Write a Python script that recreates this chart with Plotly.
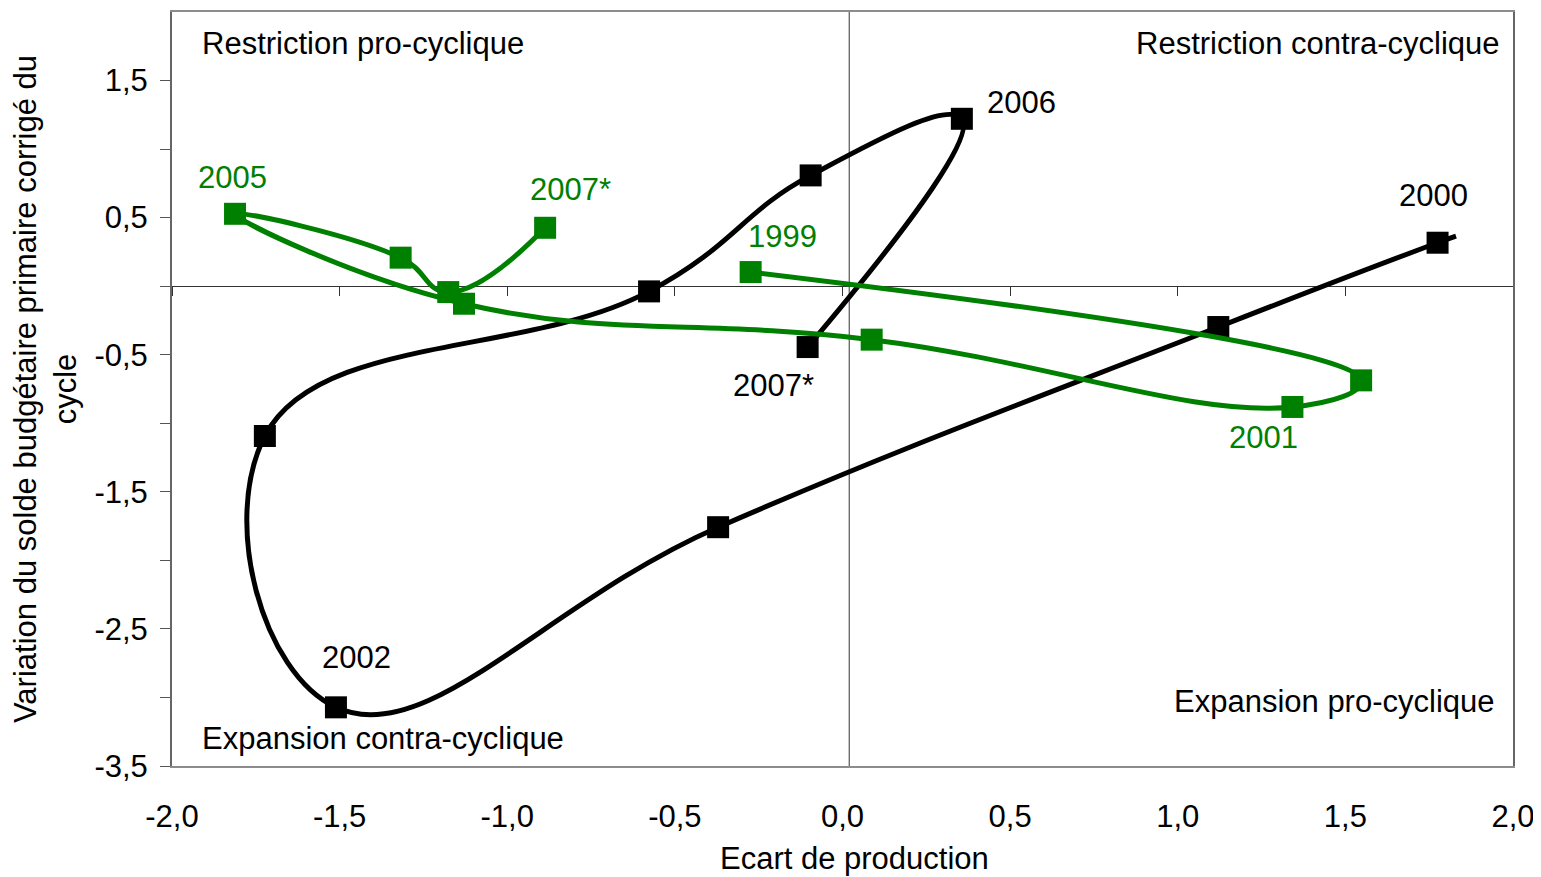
import plotly.graph_objects as go

# ---------------- data ----------------
# black series (first point: start of the smoothed curve, drawn without marker)
black_x = [1.83, 1.775, 1.121, -0.371, -1.511, -1.723, -0.577, -0.095, 0.356, -0.104]
black_y = [0.365, 0.317, -0.298, -1.758, -3.072, -1.093, -0.038, 0.808, 1.221, -0.444]
black_labels = ["", "2000", "", "", "2002", "", "", "", "2006", "2007*"]
black_has_marker = [False, True, True, True, True, True, True, True, True, True]

# green series
green_x = [-0.274, 1.547, 1.342, 0.087, -1.129, -1.812, -1.318, -1.176, -0.887]
green_y = [0.103, -0.687, -0.881, -0.390, -0.128, 0.528, 0.208, -0.043, 0.426]
green_labels = ["1999", "", "2001", "", "", "2005", "", "", "2007*"]

x_tickvals = [-2.0, -1.5, -1.0, -0.5, 0.0, 0.5, 1.0, 1.5, 2.0]
x_ticktext = ["-2,0", "-1,5", "-1,0", "-0,5", "0,0", "0,5", "1,0", "1,5", "2,0"]
y_tickvals = [-3.5, -3.0, -2.5, -2.0, -1.5, -1.0, -0.5, 0.0, 0.5, 1.0, 1.5]
y_ticktext = ["-3,5", "", "-2,5", "", "-1,5", "", "-0,5", "", "0,5", "", "1,5"]

quadrants = ["Restriction pro-cyclique", "Restriction contra-cyclique",
             "Expansion pro-cyclique", "Expansion contra-cyclique"]
x_title = "Ecart de production"
y_title = "Variation du solde budgétaire primaire corrigé du<br>cycle"
x_range = [-2.0, 2.0]
y_range = [-3.5, 2.0]
vertical_axis_x = 0.02

# ---------------- styles ----------------
FONT = "Liberation Sans, Arial, sans-serif"
FS = 31
BLACK = "#000000"
GREEN = "#008000"
MSIZE = 22
SMOOTH = 1.25

# label offsets in pixels (xshift, yshift) per label text and series
black_offsets = {"2000": (-4, 47), "2002": (21, 50), "2006": (60, 16), "2007*": (-34, -38)}
green_offsets = {"1999": (32, 36), "2001": (-29, -31), "2005": (-3, 36), "2007*": (25, 38)}

fig = go.Figure()

# black curve + markers
fig.add_trace(go.Scatter(
    x=black_x, y=black_y, mode="lines",
    line=dict(color=BLACK, width=5, shape="spline", smoothing=SMOOTH),
    showlegend=False, hoverinfo="skip"))
fig.add_trace(go.Scatter(
    x=[v for v, m in zip(black_x, black_has_marker) if m],
    y=[v for v, m in zip(black_y, black_has_marker) if m],
    mode="markers",
    marker=dict(symbol="square", size=MSIZE, color=BLACK, opacity=1,
                line=dict(width=0)),
    showlegend=False, hoverinfo="skip"))

# green curve + markers
fig.add_trace(go.Scatter(
    x=green_x, y=green_y, mode="lines+markers",
    line=dict(color=GREEN, width=5, shape="spline", smoothing=SMOOTH),
    marker=dict(symbol="square", size=MSIZE, color=GREEN, opacity=1,
                line=dict(width=0)),
    showlegend=False, hoverinfo="skip"))

# dummy trace for the zero-line axis
fig.add_trace(go.Scatter(x=[None], y=[None], xaxis="x2", yaxis="y",
                         showlegend=False, hoverinfo="skip"))

annotations = []
for xs, ys, labs, offs, col in [(black_x, black_y, black_labels, black_offsets, BLACK),
                                (green_x, green_y, green_labels, green_offsets, GREEN)]:
    for xv, yv, lab in zip(xs, ys, labs):
        if lab:
            dx, dy = offs[lab]
            annotations.append(dict(x=xv, y=yv, xref="x", yref="y", text=lab,
                                    showarrow=False, xshift=dx, yshift=dy,
                                    font=dict(family=FONT, size=FS, color=col)))

quad_pos = [(0.0209, 0.9576, "left"), (0.9918, 0.9576, "right"),
            (0.9881, 0.0849, "right"), (0.0209, 0.0371, "left")]
for txt, (px, py, anc) in zip(quadrants, quad_pos):
    annotations.append(dict(x=px, y=py, xref="paper", yref="paper", text=txt,
                            showarrow=False, xanchor=anc, yanchor="middle",
                            font=dict(family=FONT, size=FS, color=BLACK)))

# x axis title (placed below the tick labels)
annotations.append(dict(x=0.509, y=0, xref="paper", yref="paper", text=x_title,
                        showarrow=False, xanchor="center", yanchor="middle",
                        yshift=-92, font=dict(family=FONT, size=FS, color=BLACK)))

zero_pos = (0 - y_range[0]) / (y_range[1] - y_range[0])

# page body has an 8px margin: size the figure so the plot area lands at 172..1513 x 12..766
fig.update_layout(
    width=1533, height=869,
    margin=dict(l=164, r=28, t=4, b=111, autoexpand=False),
    paper_bgcolor="white", plot_bgcolor="white",
    font=dict(family=FONT, size=FS, color=BLACK),
    annotations=annotations,
    xaxis=dict(range=x_range, tickvals=x_tickvals, ticktext=x_ticktext,
               showgrid=False, zeroline=False, showline=True, mirror=True,
               linecolor="#8c8c8c", linewidth=2, ticks="", ticklabelstandoff=22,
               ticklabeloverflow="allow", automargin=False, tickfont=dict(size=FS)),
    xaxis2=dict(range=x_range, overlaying="x", anchor="free", position=zero_pos,
                tickvals=x_tickvals, showticklabels=False, showgrid=False,
                zeroline=False, showline=True, linecolor="#333333", linewidth=1,
                ticks="outside", ticklen=9, tickcolor="#333333", tickwidth=1,
                layer="below traces", automargin=False),
    yaxis=dict(range=y_range, tickvals=y_tickvals, ticktext=y_ticktext,
               showgrid=False, zeroline=False, showline=True, mirror=True,
               linecolor="#666666", linewidth=2, ticks="outside", ticklen=10,
               tickcolor="#555555", tickwidth=1, ticklabelstandoff=6, automargin=False,
               title=dict(text=y_title, standoff=10, font=dict(size=FS)),
               tickfont=dict(size=FS)),
    shapes=[dict(type="line", xref="x", yref="paper", x0=vertical_axis_x, x1=vertical_axis_x,
                 y0=0, y1=1, line=dict(color="#333333", width=1), layer="below")],
)

fig.write_html("out.html")
